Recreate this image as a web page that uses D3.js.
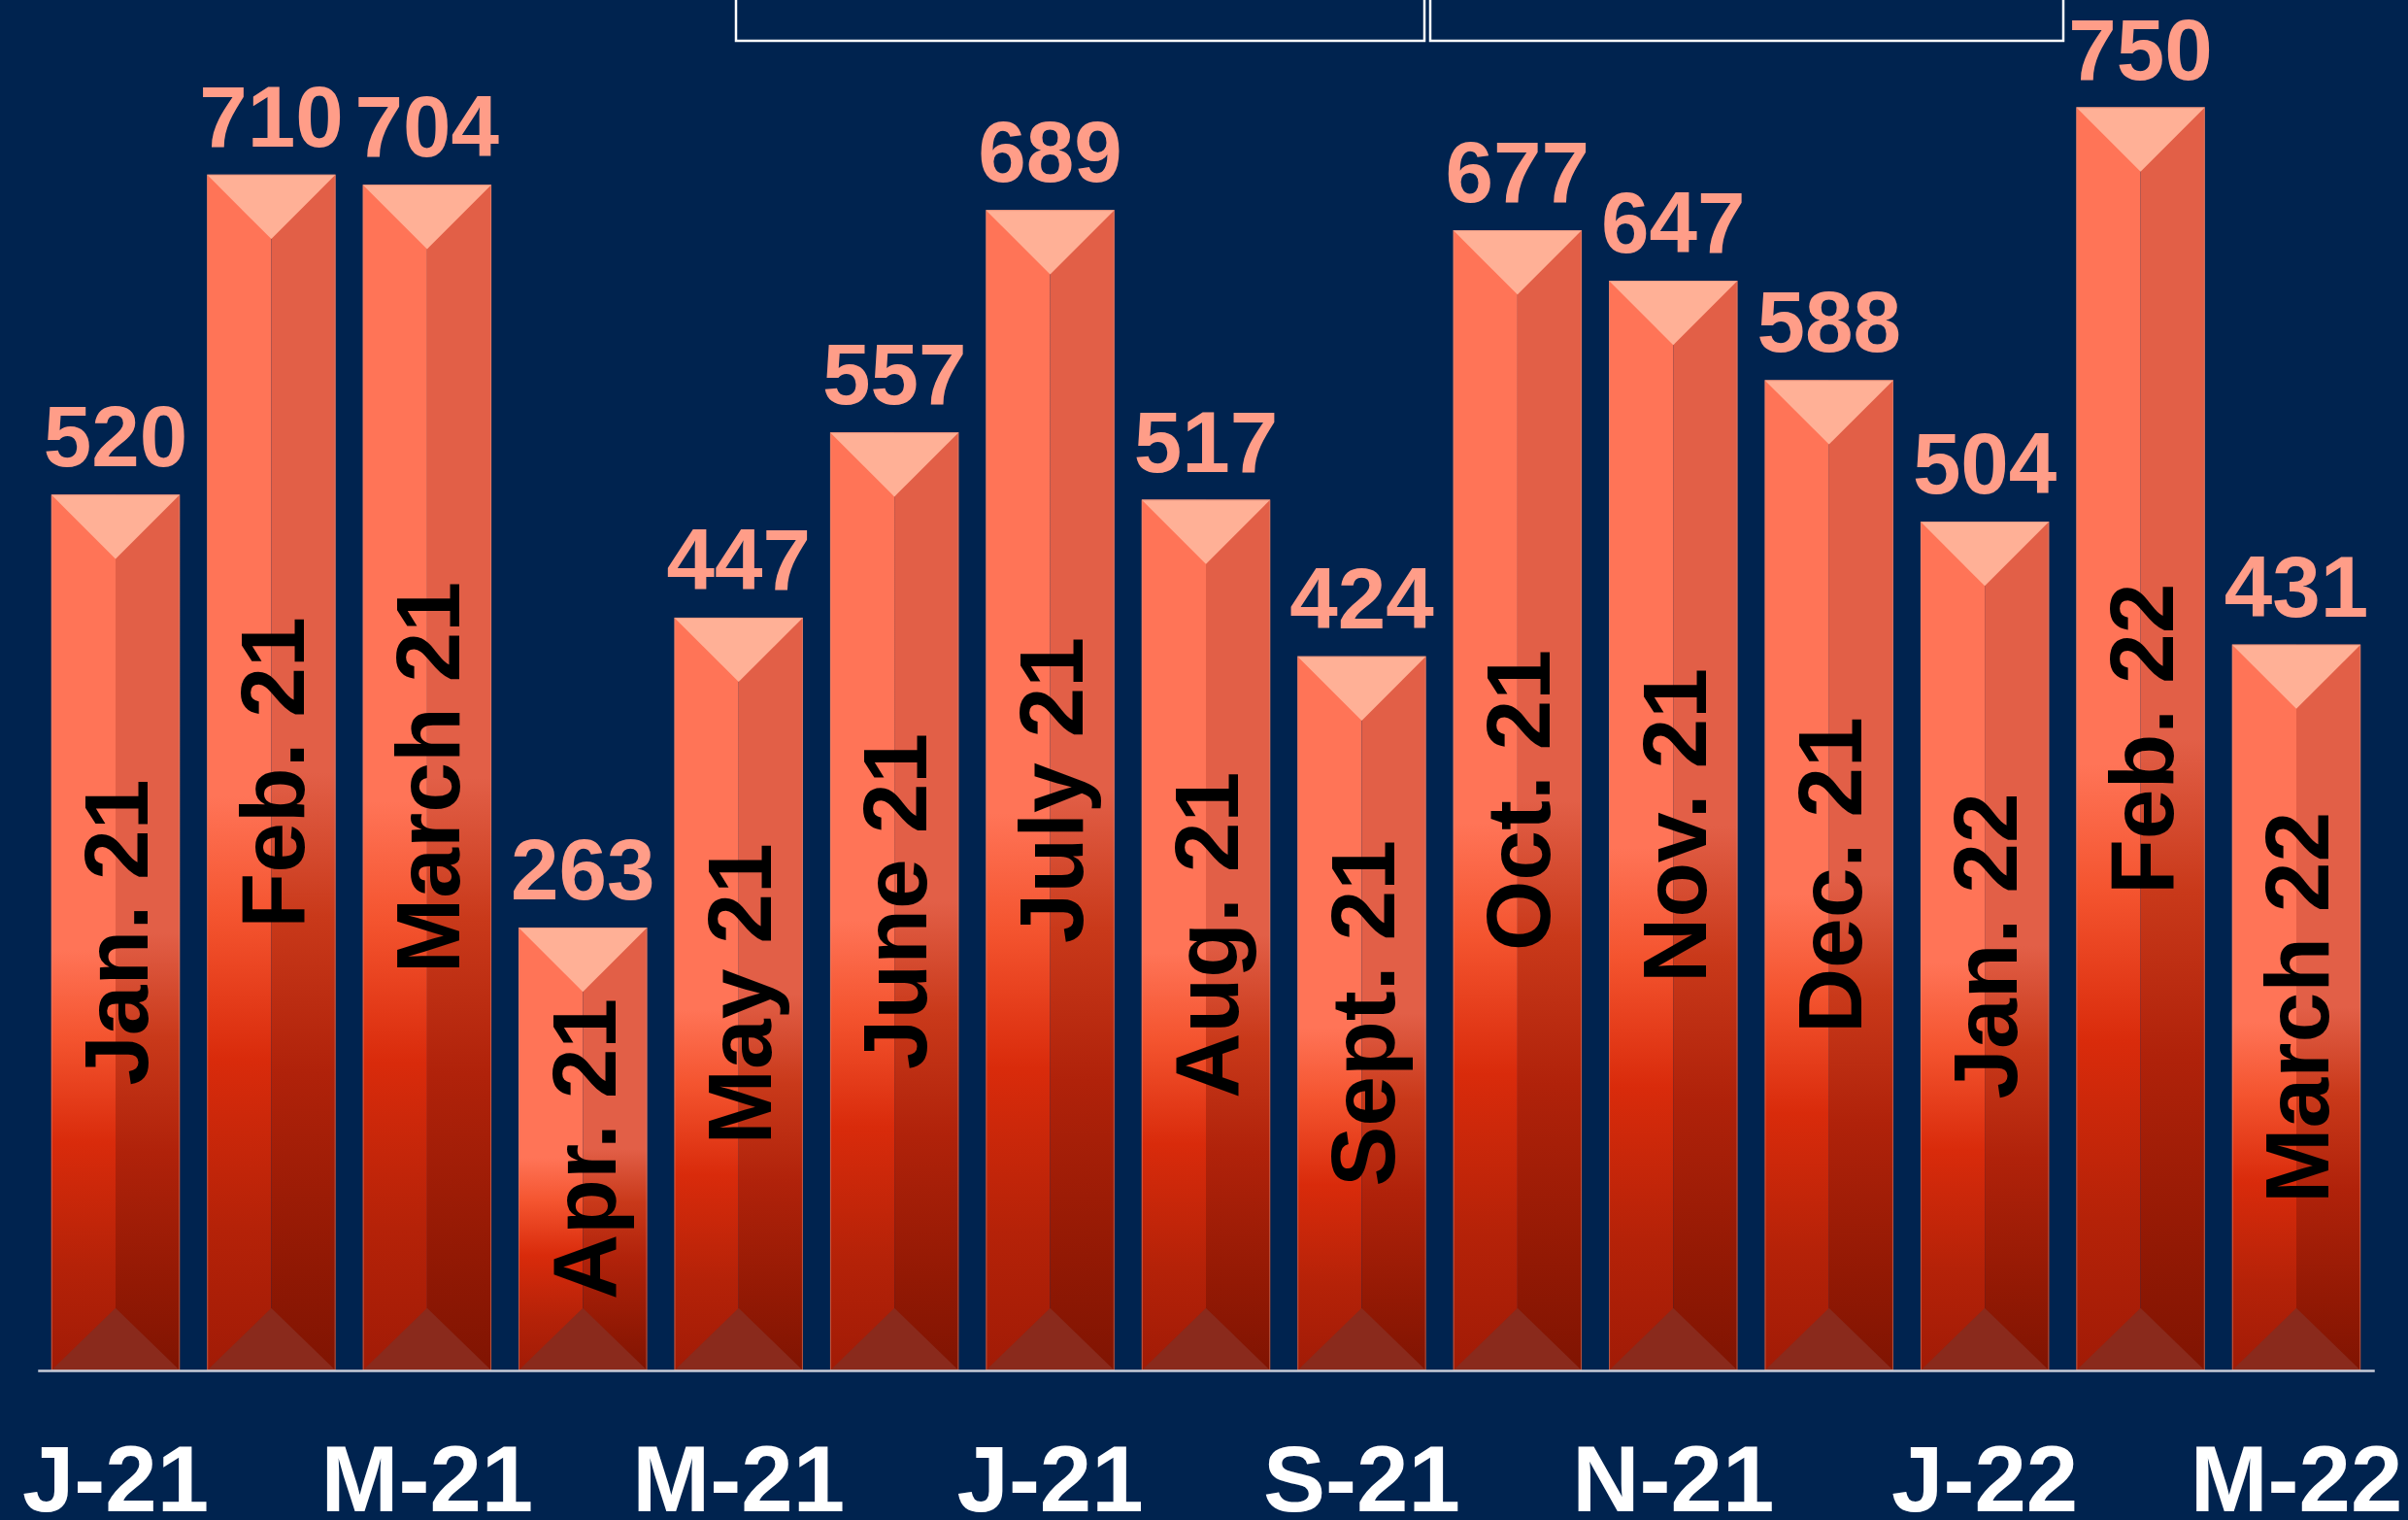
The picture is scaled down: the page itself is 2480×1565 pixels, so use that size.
<!DOCTYPE html>
<html>
<head>
<meta charset="utf-8">
<script src="https://cdn.jsdelivr.net/npm/d3@7"></script>
<style>
  html, body { margin: 0; padding: 0; background: #00234F; overflow: hidden; }
  svg { display: block; }
  text { font-family: "Liberation Sans", Arial, sans-serif; font-weight: bold; }
</style>
</head>
<body>
<svg id="chart" width="2480" height="1565"></svg>
<script>
// ---- data ----
const months = ["Jan. 21", "Feb. 21", "March 21", "Apr. 21", "May 21", "June 21", "July 21",
                "Aug. 21", "Sept. 21", "Oct. 21", "Nov. 21", "Dec. 21", "Jan. 22", "Feb. 22", "March 22"];
const values = [520, 710, 704, 263, 447, 557, 689, 517, 424, 677, 647, 588, 504, 750, 431];
const tickLabels = ["J-21", "M-21", "M-21", "J-21", "S-21", "N-21", "J-22", "M-22"];

// ---- layout ----
const W = 2480, H = 1565;
const baseY = 1411;
const svg = d3.select("#chart");
svg.append("rect").attr("width", W).attr("height", H).attr("fill", "#00234F");

const x = d3.scaleBand().domain(months).range([38.75, 2445.25]).paddingInner(0.1745).paddingOuter(0.0875);
const y = d3.scaleLinear().domain([0, 750]).range([baseY, 110.5]);

// gradients
const defs = svg.append("defs");
function grad(id, stops) {
  const g = defs.append("linearGradient").attr("id", id)
    .attr("x1", 0).attr("y1", 0).attr("x2", 0).attr("y2", 1);
  stops.forEach(s => g.append("stop").attr("offset", s[0]).attr("stop-color", s[1]));
}
grad("gL", [[0, "#FF7457"], [0.52, "#FF7457"], [0.62, "#F4542F"], [0.74, "#D92B0B"], [0.88, "#B52208"], [1, "#A11B06"]]);
grad("gR", [[0, "#E25F47"], [0.50, "#E25F47"], [0.62, "#C9391A"], [0.75, "#B0220A"], [0.9, "#931904"], [1, "#801402"]]);

// header boxes
svg.append("rect").attr("x", 758).attr("y", -20).attr("width", 709).attr("height", 62)
  .attr("fill", "none").attr("stroke", "#FFFFFF").attr("stroke-width", 2.5);
svg.append("rect").attr("x", 1473).attr("y", -20).attr("width", 652).attr("height", 62)
  .attr("fill", "none").attr("stroke", "#FFFFFF").attr("stroke-width", 2.5);

// bars
const bw = x.bandwidth();
const g = svg.selectAll("g.bar").data(months.map((m, i) => ({ m, v: values[i] })))
  .enter().append("g").attr("class", "bar");

g.append("rect")
  .attr("x", d => x(d.m)).attr("y", d => y(d.v))
  .attr("width", bw / 2).attr("height", d => baseY - y(d.v))
  .attr("fill", "url(#gL)");
g.append("rect")
  .attr("x", d => x(d.m) + bw / 2).attr("y", d => y(d.v))
  .attr("width", bw / 2).attr("height", d => baseY - y(d.v))
  .attr("fill", "url(#gR)");
g.append("polygon")
  .attr("points", d => {
    const x0 = x(d.m), y0 = y(d.v);
    return [[x0, y0], [x0 + bw, y0], [x0 + bw / 2, y0 + bw / 2]].map(p => p.join(",")).join(" ");
  })
  .attr("fill", "#FFB096");
g.append("polygon")
  .attr("points", d => {
    const x0 = x(d.m);
    return [[x0, baseY], [x0 + bw, baseY], [x0 + bw / 2, baseY - bw * 0.485]].map(p => p.join(",")).join(" ");
  })
  .attr("fill", "#8A2A1C");
g.append("rect")
  .attr("x", d => x(d.m) + 0.5).attr("y", d => y(d.v) + 0.5)
  .attr("width", bw - 1).attr("height", d => baseY - y(d.v) - 0.5)
  .attr("fill", "none").attr("stroke", "rgba(220,140,120,0.55)").attr("stroke-width", 1);

// inner vertical labels
const innerSize = 93;
g.append("text")
  .attr("transform", d => {
    const cx = x(d.m) + bw / 2 + innerSize * 0.358;
    const cy = (y(d.v) + baseY) / 2;
    return `translate(${cx},${cy}) rotate(-90)`;
  })
  .attr("text-anchor", "middle")
  .attr("font-size", innerSize)
  .attr("fill", "#000000")
  .text(d => d.m);

// value labels
g.append("text")
  .attr("x", d => x(d.m) + bw / 2)
  .attr("y", d => y(d.v) - 29)
  .attr("text-anchor", "middle")
  .attr("font-size", 89)
  .attr("fill", "#FF9D88")
  .text(d => d.v);

// x axis
const axis = d3.axisBottom(x)
  .tickSize(0).tickSizeOuter(0).tickPadding(77)
  .tickValues(months.filter((d, i) => i % 2 === 0))
  .tickFormat((d, i) => tickLabels[i]);
const ax = svg.append("g").attr("transform", `translate(0,${baseY})`).call(axis);
ax.select(".domain").attr("stroke", "#C8CCD8").attr("stroke-width", 2.5);
ax.selectAll("text")
  .attr("fill", "#FFFFFF")
  .attr("font-size", 96)
  .attr("font-family", "'Liberation Sans', Arial, sans-serif")
  .attr("font-weight", "bold");
</script>
</body>
</html>
